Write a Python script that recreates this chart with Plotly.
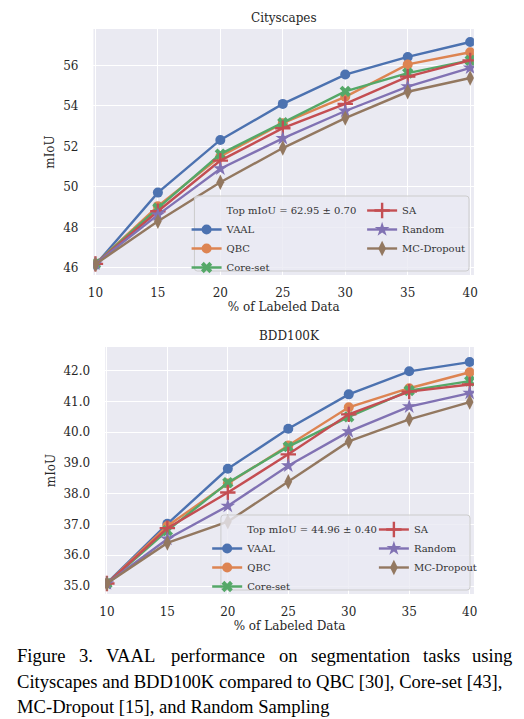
import plotly.graph_objects as go

# ---------------- data ----------------
x_pct = [10, 15, 20, 25, 30, 35, 40]

city_vaal = [46.15, 49.72, 52.32, 54.10, 55.55, 56.42, 57.16]
city_qbc = [46.20, 49.05, 51.50, 53.15, 54.45, 56.05, 56.65]
city_coreset = [46.20, 48.95, 51.62, 53.17, 54.72, 55.62, 56.25]
city_sa = [46.20, 48.80, 51.30, 52.90, 54.10, 55.45, 56.25]
city_random = [46.20, 48.62, 50.90, 52.40, 53.75, 54.95, 55.88]
city_mc = [46.18, 48.30, 50.23, 51.92, 53.40, 54.70, 55.38]

bdd_vaal = [35.09, 37.02, 38.81, 40.11, 41.23, 41.98, 42.28]
bdd_qbc = [35.08, 36.95, 38.33, 39.57, 40.81, 41.43, 41.95]
bdd_coreset = [35.08, 36.80, 38.36, 39.53, 40.50, 41.35, 41.66]
bdd_sa = [35.08, 36.88, 38.04, 39.28, 40.58, 41.32, 41.55]
bdd_random = [35.08, 36.53, 37.60, 38.91, 40.02, 40.83, 41.27]
bdd_mc = [35.08, 36.40, 37.09, 38.39, 39.70, 40.42, 40.98]

method_names = ["VAAL", "QBC", "Core-set", "SA", "Random", "MC-Dropout"]
city_top_label = "Top mIoU = 62.95 ± 0.70"
bdd_top_label = "Top mIoU = 44.96 ± 0.40"
city_title = "Cityscapes"
bdd_title = "BDD100K"
x_title = "% of Labeled Data"
y_title = "mIoU"
x_ticks = [10, 15, 20, 25, 30, 35, 40]
city_y_ticks = [46, 48, 50, 52, 54, 56]
bdd_y_ticks = [35, 36, 37, 38, 39, 40, 41, 42]

caption_lines = [
    "Figure 3. VAAL performance on segmentation tasks using",
    "Cityscapes and BDD100K compared to QBC [30], Core-set [43],",
    "MC-Dropout [15], and Random Sampling",
]

# ---------------- styles ----------------
# the page body has an 8px margin: the figure is drawn at (8, 8)
OFF = 8
W, H = 524 - OFF, 719 - OFF
colors = ["#4C72B0", "#DD8452", "#55A868", "#C44E52", "#8172B3", "#937860"]
symbols = ["circle", "circle", "x", "cross-thin", "star", "diamond-tall"]
msizes = [10, 10, 10, 11, 11, 11]
legend_col = [0, 0, 0, 1, 1, 1]
FONT = "DejaVu Serif"
TXT = "#262626"


def fx(p):
    return (p - OFF) / W


def fy(p):
    return 1 - (p - OFF) / H


fig = go.Figure()


def add_panel(series, xa, ya, legends, header):
    fig.add_trace(go.Scatter(
        x=[None], y=[None], mode="lines", name=header,
        line=dict(color="rgba(0,0,0,0)", width=0),
        xaxis=xa, yaxis=ya, legend=legends[0], hoverinfo="skip"))
    for i, vals in enumerate(series):
        mk = dict(symbol=symbols[i], size=msizes[i], color=colors[i])
        if symbols[i] == "cross-thin":
            mk["line"] = dict(color=colors[i], width=2.4)
        else:
            mk["line"] = dict(width=0)
        fig.add_trace(go.Scatter(
            x=x_pct, y=vals, mode="lines+markers", name=method_names[i],
            line=dict(color=colors[i], width=2.4), marker=mk,
            xaxis=xa, yaxis=ya, legend=legends[legend_col[i]]))


add_panel([city_vaal, city_qbc, city_coreset, city_sa, city_random, city_mc],
          "x", "y", ["legend", "legend3"], city_top_label)
add_panel([bdd_vaal, bdd_qbc, bdd_coreset, bdd_sa, bdd_random, bdd_mc],
          "x2", "y2", ["legend2", "legend4"], bdd_top_label)

grid_common = dict(
    showgrid=True, gridcolor="white", gridwidth=1.2, zeroline=False,
    showline=False, ticks="", tickfont=dict(family=FONT, size=12, color=TXT),
)
title_font = dict(family=FONT, size=12, color=TXT)


def leg(xp, yp):
    return dict(orientation="v", x=fx(xp), y=fy(yp), xanchor="left", yanchor="top",
                font=dict(family=FONT, size=10, color="#333333"),
                bgcolor="rgba(0,0,0,0)", borderwidth=0,
                itemwidth=30, tracegroupgap=0, traceorder="normal")


fig.update_layout(
    width=W, height=H,
    margin=dict(l=0, r=0, t=0, b=0),
    paper_bgcolor="white", plot_bgcolor="#EAEAF2",
    showlegend=True,
    xaxis=dict(domain=[fx(89), fx(477)], range=[9.84, 40.3], tickvals=x_ticks,
               anchor="y", ticklabelstandoff=9,
               title=dict(text=x_title, font=title_font, standoff=3), **grid_common),
    yaxis=dict(domain=[fy(275), fy(29)], range=[45.65, 57.8], tickvals=city_y_ticks,
               anchor="x", ticklabelstandoff=14,
               title=dict(text=y_title, font=title_font, standoff=5), **grid_common),
    xaxis2=dict(domain=[fx(101), fx(477)], range=[9.86, 40.35], tickvals=x_ticks,
                anchor="y2", ticklabelstandoff=9,
                title=dict(text=x_title, font=title_font, standoff=3), **grid_common),
    yaxis2=dict(domain=[fy(594), fy(347)], range=[34.74, 42.77], tickvals=bdd_y_ticks,
                tickformat=".1f", anchor="x2", ticklabelstandoff=14,
                title=dict(text=y_title, font=title_font, standoff=5), **grid_common),
    legend=leg(184, 196),
    legend3=leg(363, 196),
    legend2=leg(205, 515),
    legend4=leg(375, 515),
)


def rounded_path(x0, y0, x1, y1, r):
    # pixel coords (top-left origin) -> paper path with rounded corners
    rx, ry = r / W, r / H
    X0, X1 = fx(x0), fx(x1)
    Yt, Yb = fy(y0), fy(y1)
    return (f"M {X0 + rx},{Yt} L {X1 - rx},{Yt} Q {X1},{Yt} {X1},{Yt - ry} "
            f"L {X1},{Yb + ry} Q {X1},{Yb} {X1 - rx},{Yb} "
            f"L {X0 + rx},{Yb} Q {X0},{Yb} {X0},{Yb + ry} "
            f"L {X0},{Yt - ry} Q {X0},{Yt} {X0 + rx},{Yt} Z")


# legend frames
for box in [(192, 196, 472, 271), (219, 515, 473, 590)]:
    fig.add_shape(type="path", xref="paper", yref="paper", layer="above",
                  path=rounded_path(*box, 3),
                  fillcolor="rgba(234,234,242,0.8)", line=dict(color="#CCCCCC", width=1))

# panel titles
fig.add_annotation(text=city_title, x=fx(283), y=fy(18), xref="paper", yref="paper",
                   showarrow=False, font=title_font, xanchor="center", yanchor="middle")
fig.add_annotation(text=bdd_title, x=fx(289), y=fy(336), xref="paper", yref="paper",
                   showarrow=False, font=title_font, xanchor="center", yanchor="middle")

# ---------------- caption ----------------
TIMES = {
    " ": 250, ".": 250, ",": 250, "-": 333, "[": 333, "]": 333,
    "A": 722, "B": 667, "C": 667, "D": 722, "E": 611, "F": 556, "G": 722, "H": 722,
    "I": 333, "J": 389, "K": 722, "L": 611, "M": 889, "N": 722, "O": 722, "P": 556,
    "Q": 722, "R": 667, "S": 556, "T": 611, "U": 722, "V": 722, "W": 944, "X": 722,
    "Y": 722, "Z": 611,
    "a": 444, "b": 500, "c": 444, "d": 500, "e": 444, "f": 333, "g": 500, "h": 500,
    "i": 278, "j": 278, "k": 500, "l": 278, "m": 778, "n": 500, "o": 500, "p": 500,
    "q": 500, "r": 333, "s": 389, "t": 278, "u": 500, "v": 500, "w": 722, "x": 500,
    "y": 500, "z": 444,
}
CAP_FS = 18.6
CAP_FONT = dict(family="Liberation Serif", size=CAP_FS, color="black")
cap_left, cap_right = 10, 517
cap_centers = [655.5, 681.3, 706.3]


def text_w(s):
    return sum(TIMES.get(c, 500) for c in s) / 1000 * CAP_FS * 1.02


# line 1 is justified to the full width; the others use natural spacing
line = caption_lines[0]
words = line.split(" ")
ws = [text_w(w) for w in words]
gap = (cap_right - cap_left - sum(ws)) / (len(words) - 1)
xpos = cap_left
for wi, word in enumerate(words):
    last = wi == len(words) - 1
    fig.add_annotation(text=word, x=fx(cap_right if last else xpos), y=fy(cap_centers[0]),
                       xref="paper", yref="paper", showarrow=False, font=CAP_FONT,
                       xanchor="right" if last else "left", yanchor="middle", borderpad=0)
    xpos += ws[wi] + gap
for li in (1, 2):
    fig.add_annotation(text=caption_lines[li], x=fx(cap_left), y=fy(cap_centers[li]),
                       xref="paper", yref="paper", showarrow=False, font=CAP_FONT,
                       xanchor="left", yanchor="middle", borderpad=0)

fig.write_html("out.html")
